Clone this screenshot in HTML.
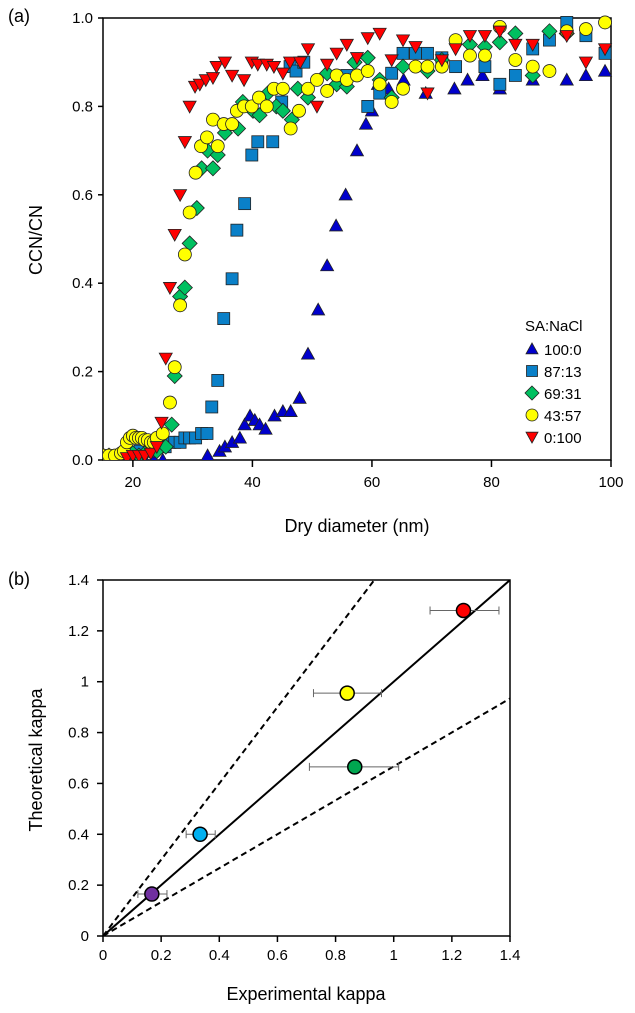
<!DOCTYPE html>
<html><head><meta charset="utf-8"><style>
html,body{margin:0;padding:0;background:#fff;}
svg{display:block;font-family:"Liberation Sans",Arial,sans-serif;}
</style></head><body>
<svg id="chart" width="635" height="1013"></svg>
<script>
// ---------- Panel (a) data ----------
const triX=[22,23.5,25,32.5,34.5,35.4,36.6,37.9,38.7,39.6,40.4,41.2,42.2,43.7,45.1,46.4,47.9,49.3,51,52.5,54,55.6,57.5,59,60,61,62.8,65.3,69,73.8,76,78.5,81.4,86.9,92.6,95.8,99];
const triY=[0,0,0,0.01,0.02,0.03,0.04,0.05,0.08,0.1,0.09,0.08,0.07,0.1,0.11,0.11,0.14,0.24,0.34,0.44,0.53,0.6,0.7,0.76,0.79,0.85,0.84,0.86,0.83,0.84,0.86,0.87,0.84,0.86,0.86,0.87,0.88];
const sqX=[19.2,21.2,22.8,25.4,26.2,27,27.9,28.7,29.5,30.5,31.5,32.4,33.2,34.2,35.2,36.6,37.4,38.7,39.9,40.9,43.4,44.9,46.3,47.3,48.6,55.8,59.3,61.3,63.3,65.2,67.3,69.3,71.7,74,78.9,81.4,84,86.9,89.7,92.6,95.8,99];
const sqY=[0.01,0.02,0.02,0.03,0.04,0.04,0.04,0.05,0.05,0.05,0.06,0.06,0.12,0.18,0.32,0.41,0.52,0.58,0.69,0.72,0.72,0.81,0.89,0.88,0.9,0.87,0.8,0.83,0.875,0.92,0.92,0.92,0.91,0.89,0.89,0.85,0.87,0.93,0.95,0.99,0.96,0.92];
const diaX=[15,16,17,18,19,20,21,22,23,24,25.5,26.5,27,27.9,28.7,29.5,30.7,31.5,32.5,33.4,34.2,35.4,37.6,38.4,40.1,41.2,42.6,44,45.1,46.6,47.6,49.3,52.5,54.1,55.8,57.1,59.3,61.3,63.3,65.2,69.3,71.7,76.4,78.9,81.4,84,86.9,89.7,92.6];
const diaY=[0.01,0.01,0.005,0.01,0.01,0.015,0.01,0.015,0.02,0.02,0.03,0.08,0.19,0.37,0.39,0.49,0.57,0.66,0.70,0.66,0.69,0.74,0.75,0.81,0.79,0.78,0.83,0.80,0.79,0.77,0.84,0.82,0.875,0.85,0.845,0.9,0.91,0.86,0.82,0.89,0.88,0.905,0.94,0.935,0.945,0.965,0.87,0.97,0.965];
const cirX=[15,16,17,18,18.5,19,19.5,20,20.5,21,21.5,22,22.5,23,23.5,24,25,26.2,27,27.9,28.7,29.5,30.5,31.4,32.4,33.4,34.2,35.2,36.6,37.4,38.6,39.9,41.1,42.4,43.6,45.1,46.4,47.8,49.3,50.8,52.5,54.1,55.8,57.5,59.3,61.3,63.3,65.2,67.3,69.3,71.7,74,76.4,78.9,81.4,84,86.9,89.7,92.6,95.8,99];
const cirY=[0.01,0.01,0.01,0.015,0.02,0.04,0.05,0.055,0.05,0.05,0.05,0.045,0.045,0.04,0.04,0.05,0.06,0.13,0.21,0.35,0.465,0.56,0.65,0.71,0.73,0.77,0.71,0.76,0.76,0.79,0.80,0.80,0.82,0.80,0.84,0.84,0.75,0.79,0.84,0.86,0.835,0.87,0.86,0.87,0.88,0.85,0.81,0.84,0.89,0.89,0.89,0.95,0.915,0.915,0.98,0.905,0.89,0.88,0.97,0.975,0.99];
const invX=[19,20,21,22,23,24,24.8,25.5,26.2,27,27.9,28.7,29.5,30.4,31.2,32.2,33.4,34,35.4,36.6,38.6,39.9,40.9,42.4,43.6,45.1,46.3,48,49.3,50.8,52.5,54.1,55.8,57.5,59.3,61.3,63.3,65.2,67.3,69.3,71.7,74,76.4,78.9,81.4,84,86.9,92.6,95.8,99];
const invY=[0.005,0.01,0.01,0.01,0.015,0.03,0.085,0.23,0.39,0.51,0.60,0.72,0.80,0.845,0.85,0.86,0.865,0.89,0.90,0.87,0.86,0.90,0.895,0.895,0.89,0.875,0.90,0.90,0.93,0.80,0.895,0.92,0.94,0.91,0.955,0.965,0.905,0.95,0.935,0.83,0.905,0.93,0.96,0.96,0.97,0.94,0.94,0.96,0.90,0.93];
const xTicksA=[20,40,60,80,100];
const yTicksA=[0,0.2,0.4,0.6,0.8,1.0];
const legendLabels=["100:0","87:13","69:31","43:57","0:100"];

// ---------- Panel (b) data ----------
const expK=[1.24,0.84,0.866,0.334,0.168];
const theoK=[1.28,0.955,0.665,0.40,0.165];
const errLo=[1.125,0.724,0.71,0.286,0.12];
const errHi=[1.362,0.958,1.017,0.386,0.22];
const ptColors=["#ff0000","#ffff00","#00a650","#00b0f0","#7030a0"];
const xTicksB=[0,0.2,0.4,0.6,0.8,1,1.2,1.4];
const yTicksB=[0,0.2,0.4,0.6,0.8,1,1.2,1.4];
const refSlopes=[1,1.5,0.667];

const NS="http://www.w3.org/2000/svg";
const svg=document.getElementById('chart');
function mk(tag,attrs,parent){const e=document.createElementNS(NS,tag);for(const k in attrs)e.setAttribute(k,attrs[k]);(parent||svg).appendChild(e);return e;}
function txt(s,x,y,size,anchor,parent){const t=mk('text',{x:x,y:y,'font-size':size,'text-anchor':anchor||'middle',fill:'#000'},parent);t.textContent=s;return t;}

// Panel a axes
const aL=103,aR=611,aT=18,aB=460;
const ax=d=>aL+(d-15)/(100-15)*(aR-aL);
const ay=v=>aB-v*(aB-aT);
const gA=mk('g',{});


const frameA=mk('rect',{x:aL,y:aT,width:aR-aL,height:aB-aT,fill:'none',stroke:'#000','stroke-width':1.5},gA);


xTicksA.forEach(t=>{
  const l=mk('line',{x1:ax(t),x2:ax(t),y1:aB,y2:aB+7,stroke:'#000','stroke-width':1.5},gA);
  
  
  const tl=txt(String(t),ax(t),aB+27,15,'middle',gA);
  
  
});
yTicksA.forEach(t=>{
  const l=mk('line',{x1:aL-5,x2:aL,y1:ay(t),y2:ay(t),stroke:'#000','stroke-width':1.5},gA);
  
  
  const tl=txt(t.toFixed(1),aL-10,ay(t)+5,15,'end',gA);
  
  
});
const xtA=txt('Dry diameter (nm)',357,532,18,'middle',gA);


const ytA=txt('CCN/CN',0,0,18,'middle',gA);
ytA.setAttribute('transform','translate(42,240) rotate(-90)');


const la=txt('(a)',8,22,18,'start',gA);



const clip=mk('clipPath',{id:'ca'},gA);mk('rect',{x:aL,y:aT-8,width:aR-aL+8,height:aB-aT+8},clip);
const marks=mk('g',{'clip-path':'url(#ca)'},gA);
function marker(type,x,y,p,s){
  s=s||6.5;let e;
  const st={stroke:'#222','stroke-width':0.8};
  if(type==='tri')e=mk('polygon',Object.assign({points:`${x},${y-s} ${x-s},${y+s*0.8} ${x+s},${y+s*0.8}`,fill:'#0000cc'},st),p);
  else if(type==='sq')e=mk('rect',Object.assign({x:x-s+0.5,y:y-s+0.5,width:2*s-1,height:2*s-1,fill:'#0a80c8'},st),p);
  else if(type==='dia')e=mk('polygon',Object.assign({points:`${x},${y-s-1} ${x+s+1},${y} ${x},${y+s+1} ${x-s-1},${y}`,fill:'#00c060'},st),p);
  else if(type==='cir')e=mk('circle',Object.assign({cx:x,cy:y,r:s,fill:'#ffff00'},st),p);
  else e=mk('polygon',Object.assign({points:`${x},${y+s} ${x-s},${y-s*0.8} ${x+s},${y-s*0.8}`,fill:'#ff0000'},st),p);
  return e;
}
const series=[['tri',triX,triY,'series-100-0'],['sq',sqX,sqY,'series-87-13'],['dia',diaX,diaY,'series-69-31'],['cir',cirX,cirY,'series-43-57'],['inv',invX,invY,'series-0-100']];
series.forEach(([type,xs,ys,name])=>{
  const g=mk('g',{},marks);
  
  
  xs.forEach((d,i)=>{
    const m=marker(type,ax(d),ay(ys[i]),g);
    
    
  });
});
// legend
const leg=mk('g',{},gA);


const lt=txt('SA:NaCl',525,331,15,'start',leg);


series.forEach(([type],i)=>{
  const y=354+i*22;
  const m=marker(type,532,y-5,leg,6);
  
  
  const t=txt(legendLabels[i],544,y+1,15,'start',leg);
  
  
});

// Panel b
const bL=103,bR=510,bT=580,bB=936;
const bx=v=>bL+v/1.4*(bR-bL);
const by=v=>bB-v/1.4*(bB-bT);
const gB=mk('g',{});


const cb=mk('clipPath',{id:'cb'},gB);mk('rect',{x:bL,y:bT,width:bR-bL,height:bB-bT},cb);
const lines=mk('g',{'clip-path':'url(#cb)'},gB);
refSlopes.forEach((s,i)=>{
  const l=mk('line',{x1:bx(0),y1:by(0),x2:bx(1.4),y2:by(1.4*s),stroke:'#000','stroke-width':2,'stroke-dasharray':i?'6,4':'none'},lines);
  
  
});
const frameB=mk('rect',{x:bL,y:bT,width:bR-bL,height:bB-bT,fill:'none',stroke:'#000','stroke-width':1.5},gB);


xTicksB.forEach(t=>{
  const l=mk('line',{x1:bx(t),x2:bx(t),y1:bB,y2:bB+6,stroke:'#000','stroke-width':1.5},gB);
  
  
  const tl=txt(String(t),bx(t),bB+24,15,'middle',gB);
  
  
});
yTicksB.forEach(t=>{
  const l=mk('line',{x1:bL-6,x2:bL,y1:by(t),y2:by(t),stroke:'#000','stroke-width':1.5},gB);
  
  
  const tl=txt(String(t),bL-14,by(t)+5,15,'end',gB);
  
  
});
const xtB=txt('Experimental  kappa',306,1000,18,'middle',gB);


const ytB=txt('Theoretical  kappa',0,0,18,'middle',gB);
ytB.setAttribute('transform','translate(42,760) rotate(-90)');


const lb=txt('(b)',8,585,18,'start',gB);


expK.forEach((e,i)=>{
  const y=by(theoK[i]);
  const g=mk('g',{},gB);
  
  
  const eb=mk('path',{d:`M${bx(errLo[i])},${y}H${bx(errHi[i])}M${bx(errLo[i])},${y-4}V${y+4}M${bx(errHi[i])},${y-4}V${y+4}`,stroke:'#666','stroke-width':1,fill:'none'},g);
  
  
  const c=mk('circle',{cx:bx(e),cy:y,r:7,fill:ptColors[i],stroke:'#000','stroke-width':1.5},g);
  
  
});
</script>
</body></html>
